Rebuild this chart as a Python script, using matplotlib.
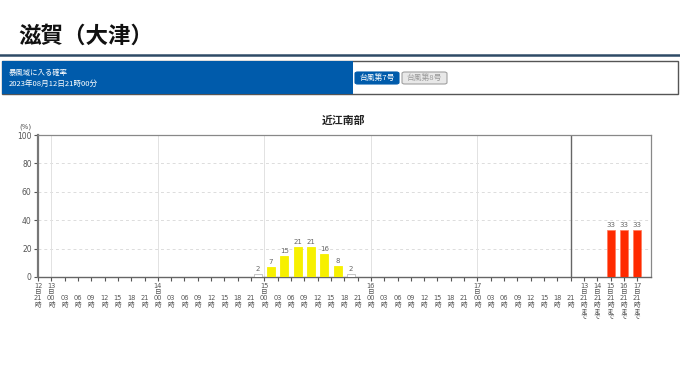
import matplotlib
matplotlib.use("Agg")
import matplotlib.pyplot as plt
from matplotlib.patches import Rectangle, FancyBboxPatch

plt.rcParams["font.family"] = ["DejaVu Sans", "Noto Sans CJK JP"]

W, H = 680, 382

page_title = "滋賀（大津）"
box_title = "暴風域に入る確率"
box_time = "2023年08月12日21時00分"
buttons = ["台風第7号", "台風第8号"]
chart_title = "近江南部"

# 3-hour intervals from 12日21時 to 17日21時 (40 intervals)
probs_3h = [0, 0, 0, 0, 0, 0, 0, 0,
            0, 0, 0, 0, 0, 0, 0, 0,
            2, 7, 15, 21, 21, 16, 8, 2,
            0, 0, 0, 0, 0, 0, 0, 0,
            0, 0, 0, 0, 0, 0, 0, 0]
tick_days = ["12", "13", "14", "15", "16", "17"]
tick_hours = ["21", "00", "03", "06", "09", "12", "15", "18"]

# cumulative probability up to each day 21時
cum_days = ["13", "14", "15", "16", "17"]
cum_probs = [0, 0, 33, 33, 33]

y_ticks = [0, 20, 40, 60, 80, 100]


def fx(px):
    return px / W


def fy(py):
    return 1 - py / H


def bar_color(v):
    if v < 5:
        return "white"
    if v < 30:
        return "#f7f000"
    return "#ff2a00"


fig = plt.figure(figsize=(W / 100, H / 100), dpi=100)

# header
fig.text(fx(18), fy(36), page_title, fontsize=16.2, fontweight="bold",
         family=["Noto Sans CJK JP"], va="center", ha="left", color="#111")
fig.add_artist(plt.Line2D([0, 1], [fy(55), fy(55)], color="#2e4a66", lw=1.8,
                          transform=fig.transFigure))
fig.add_artist(Rectangle((fx(2), fy(94)), fx(676), fy(61) - fy(94),
                         transform=fig.transFigure, facecolor="white",
                         edgecolor="#555", lw=1.0))
fig.add_artist(Rectangle((fx(2), fy(94)), fx(351), fy(61) - fy(94),
                         transform=fig.transFigure, facecolor="#005bab",
                         edgecolor="none"))
fig.text(fx(8.5), fy(72.5), box_title, fontsize=5.3, color="white",
         family=["Noto Sans CJK JP"], va="center")
fig.text(fx(8.5), fy(84), box_time, fontsize=5.5, color="white",
         family=["Noto Sans CJK JP"], va="center")
btn_x = [355, 402]
btn_w = [44, 45]
btn_face = ["#005bab", "#e8e8e8"]
btn_edge = ["#005bab", "#a0a0a0"]
btn_text = ["white", "#999"]
for name, bx, bw, fc, ec, tc in zip(buttons, btn_x, btn_w, btn_face, btn_edge, btn_text):
    fig.add_artist(FancyBboxPatch((fx(bx), fy(84)), fx(bw), fy(72) - fy(84),
                                  boxstyle="round,pad=0,rounding_size=0.004",
                                  transform=fig.transFigure, facecolor=fc,
                                  edgecolor=ec, lw=0.8))
    fig.text(fx(bx + bw / 2), fy(78), name, fontsize=5.6, color=tc,
             family=["Noto Sans CJK JP"], va="center", ha="center")

# chart
ax = fig.add_axes([fx(38), fy(277), fx(650.5) - fx(38), fy(135) - fy(277)])

n = len(probs_3h)
x_time = [i + 0.5 for i in range(n)]
x_cum = [n + 1 + i for i in range(len(cum_days))]

for x, v in zip(x_time, probs_3h):
    if v > 0:
        c = bar_color(v)
        ax.bar(x, v, width=0.6, color=c,
               edgecolor="#bbb" if c == "white" else c, lw=0.6, zorder=3)
        ax.text(x, v + 1.5, str(v), ha="center", va="bottom", fontsize=5,
                color="#666")
for x, v in zip(x_cum, cum_probs):
    if v > 0:
        ax.bar(x, v, width=0.6, color=bar_color(v), edgecolor="#ff7a5a",
               lw=0.5, zorder=3)
        ax.text(x, v + 1.5, str(v), ha="center", va="bottom", fontsize=5,
                color="#666")

ax.set_xlim(0, n + 6)
ax.set_ylim(0, 100)

# x tick labels
positions = []
labels = []
for i in range(n + 1):
    hour = tick_hours[i % 8]
    if i == 0:
        labels.append(f"{tick_days[0]}\n日\n{hour}\n時")
    elif i % 8 == 1:
        labels.append(f"{tick_days[i // 8 + 1]}\n日\n{hour}\n時")
    else:
        labels.append(f"\n\n{hour}\n時")
    positions.append(i)
for x, d in zip(x_cum, cum_days):
    positions.append(x)
    labels.append(f"{d}\n日\n21\n時\nま\nで")
ax.set_xticks(positions, labels)
for lbl in ax.get_xticklabels():
    lbl.set_linespacing(0.98)
ax.tick_params(axis="x", length=3, width=0.8, pad=1.5, labelsize=4.8,
               colors="#555")

ax.set_yticks(y_ticks, [str(v) for v in y_ticks])
ax.tick_params(axis="y", length=3, width=0.8, pad=1.5, labelsize=5.5,
               colors="#555")

# grid
for yv in y_ticks[1:-1]:
    ax.axhline(yv, color="#dcdcdc", lw=0.7, ls=(0, (3, 3)), zorder=1)
for i in range(1, n, 8):
    ax.axvline(i, color="#e2e2e2", lw=0.7, zorder=1)
ax.axvline(n, color="#666", lw=1.0, zorder=2)

for side in ["top", "right"]:
    ax.spines[side].set_color("#888")
    ax.spines[side].set_linewidth(0.9)
ax.spines["left"].set_color("#777")
ax.spines["left"].set_linewidth(1.6)
ax.spines["bottom"].set_color("#666")
ax.spines["bottom"].set_linewidth(1.0)

fig.text(fx(25), fy(127), "(%)", fontsize=5, color="#555", ha="center",
         va="center")
fig.text(fx(344), fy(121), chart_title, fontsize=7.8, fontweight="bold",
         family=["Noto Sans CJK JP"], ha="center", va="center", color="#222")

fig.savefig("out.png", dpi=100)
